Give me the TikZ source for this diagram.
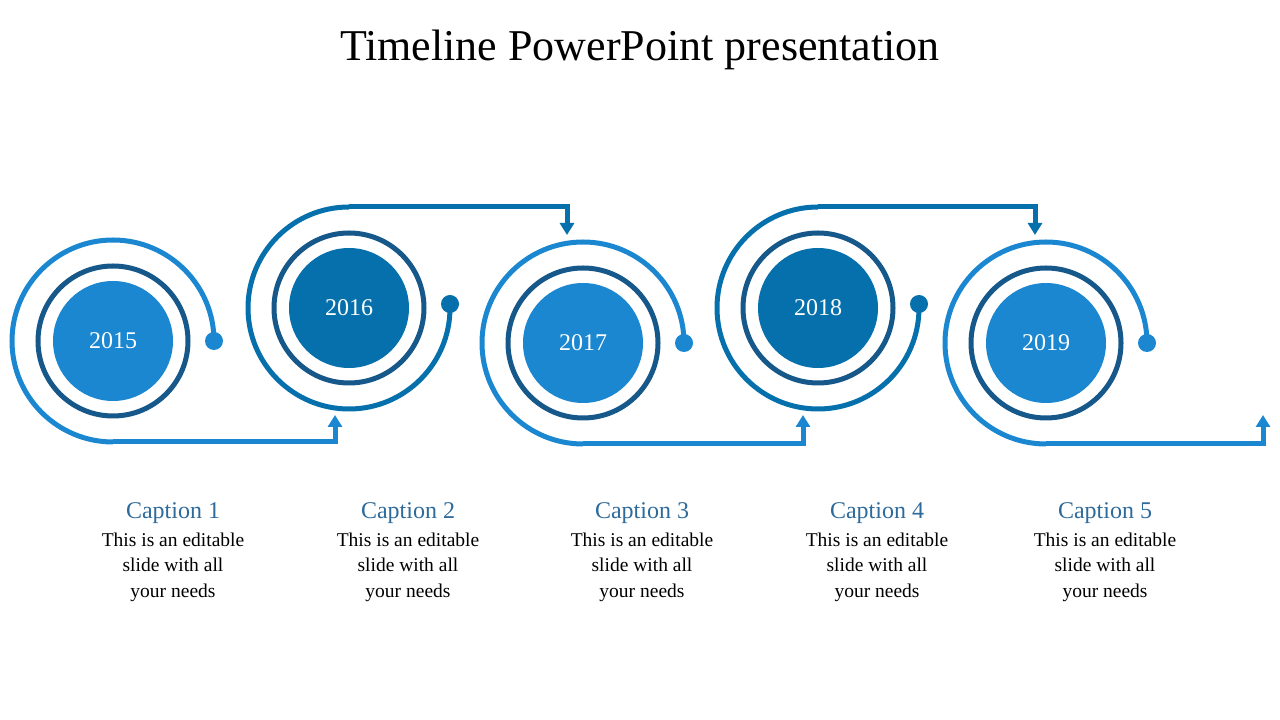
\documentclass[tikz,border=0pt]{standalone}
\usepackage{fontspec}
\setmainfont{Liberation Serif}
\usetikzlibrary{arrows.meta, positioning}
\definecolor{yearlight}{RGB}{27, 135, 208}
\definecolor{yeardark}{RGB}{5, 112, 171}
\definecolor{ringdark}{RGB}{22, 88, 138}
\definecolor{captionblue}{RGB}{46, 106, 154}

\begin{document}
\begin{tikzpicture}[x=1pt, y=1pt,
    disc/.style={circle, minimum size=120pt, inner sep=0pt, text=white, font=\fontsize{24}{28}\selectfont},
    ringline/.style={draw=ringdark, line width=5pt},
    track/.style={line width=5pt},
    tip/.style={-{Triangle[length=12pt, width=14pt]}},
    captiontext/.style={text=captionblue, font=\fontsize{24}{28}\selectfont},
    bodytext/.style={align=center, font=\fontsize{19.5}{25.5}\selectfont}]
        \useasboundingbox (0,0) rectangle (1280,720);
        % Title
        \node (title) at (640,670) {\fontsize{44}{50}\selectfont Timeline PowerPoint presentation};

        % Year discs with rings
        \foreach \i/\x/\y/\yr/\col in {1/113/379/2015/yearlight, 2/349/412/2016/yeardark, 3/583/377/2017/yearlight, 4/818/412/2018/yeardark, 5/1046/377/2019/yearlight}{
            \node[disc, fill=\col] (year\i) at (\x,\y) {\yr};
            \draw[ringline] (year\i.center) circle (75);
        }

        % Spirals for the lower years
        \foreach \i/\x/\nx in {1/113/335, 3/583/803, 5/1046/1263}{
            \coordinate (tipend\i) at (\nx,305);
            \draw[track, draw=yearlight] (year\i.center) ++(0,-101) arc[start angle=-90, end angle=-360, radius=101] coordinate (dot\i);
            \fill[yearlight] (dot\i) circle (9);
            \draw[track, draw=yearlight, tip] (year\i.center) ++(0,-101) -| (tipend\i);
        }

        % Spirals for the upper years
        \foreach \i/\x/\nx in {2/349/567, 4/818/1035}{
            \coordinate (tipend\i) at (\nx,485);
            \draw[track, draw=yeardark] (year\i.center) ++(101,0) coordinate (dot\i) arc[start angle=0, end angle=-270, radius=101];
            \fill[yeardark] (dot\i) ++(0,4) circle (9);
            \draw[track, draw=yeardark, tip] (year\i.center) ++(0,101) -| (tipend\i);
        }

        % Captions
        \foreach \i/\x in {1/173, 2/408, 3/642, 4/877, 5/1105}{
            \node[captiontext] (caption\i) at (\x,207) {Caption \i};
            \node[bodytext, below=2pt of caption\i] (body\i) {This is an editable\\slide with all\\your needs};
        }
    \end{tikzpicture}
\end{document}
